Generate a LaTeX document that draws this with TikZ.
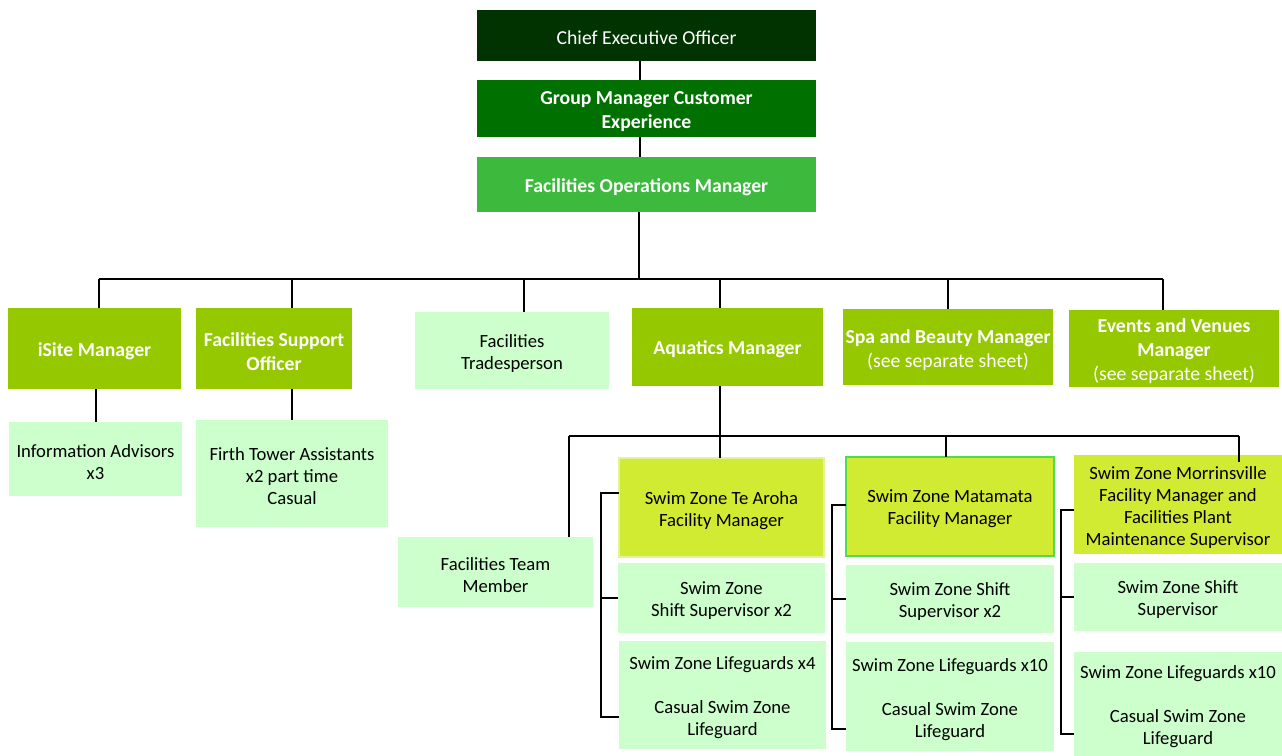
\documentclass[tikz,border=0pt]{standalone}
\usepackage{fontspec}
\setmainfont{Carlito}
\definecolor{ceoC}{RGB}{0,51,0}
\definecolor{gmC}{RGB}{0,112,0}
\definecolor{fomC}{RGB}{61,185,61}
\definecolor{lvlC}{RGB}{150,200,0}
\definecolor{liteC}{RGB}{204,255,204}
\definecolor{yelC}{RGB}{208,235,50}
\definecolor{mmC}{RGB}{80,220,80}
\definecolor{taC}{RGB}{225,245,150}
\newcommand\orgbox[7]{%
  \node[#2,minimum width={(#5-#3)*0.75pt},minimum height={(#6-#4)*0.75pt}] (#1) at ({(#3+#5)/2},{(#4+#6)/2}) {};
  \node[#2,fill=none,draw=none] (#1-t) at ([yshift=-2pt]#1.center) {#7};}
\begin{document}
\begin{tikzpicture}[x=0.75pt,y=-0.75pt,
  base/.style={rectangle,inner sep=0pt,outer sep=0pt,align=center},
  ceobox/.style={base,fill=ceoC,text=white,font=\fontsize{14.8}{18}\selectfont},
  gmbox/.style={base,fill=gmC,text=white,font=\bfseries\fontsize{14.8}{18}\selectfont},
  fombox/.style={base,fill=fomC,text=white,font=\bfseries\fontsize{14.8}{18}\selectfont},
  lvlbox/.style={base,fill=lvlC,text=white,font=\bfseries\fontsize{14.8}{18}\selectfont},
  litebox/.style={base,fill=liteC,text=black,font=\fontsize{14}{16.5}\selectfont},
  yelbox/.style={base,fill=yelC,text=black,font=\fontsize{14}{16.5}\selectfont},
  conn/.style={draw=black,line width=1.4pt}]
\useasboundingbox[fill=white] (0,0) rectangle (1282,756);

% top chain
\orgbox{ceo}{ceobox}{477}{10}{816}{61}{Chief Executive Officer}
\orgbox{gm}{gmbox}{477}{80}{816}{137}{Group Manager Customer\\Experience}
\orgbox{fom}{fombox}{477}{157}{816}{212}{Facilities Operations Manager}

% level 2
\orgbox{isite}{lvlbox}{8}{308}{181}{389}{iSite Manager}
\orgbox{fso}{lvlbox}{196}{308}{352}{389}{Facilities Support\\Officer}
\orgbox{trade}{litebox}{415}{312}{609}{389}{Facilities\\Tradesperson}
\orgbox{aqua}{lvlbox}{632}{308}{823}{386}{Aquatics Manager}
\orgbox{spa}{lvlbox}{843}{309}{1053}{385}{Spa and Beauty Manager\\{\mdseries (see separate sheet)}}
\orgbox{events}{lvlbox}{1069}{310}{1279}{387}{Events and Venues\\Manager\\{\mdseries (see separate sheet)}}

% level 3 left
\orgbox{info}{litebox}{9}{422}{182}{496}{Information Advisors\\x3}
\orgbox{firth}{litebox}{196}{420}{388}{527}{Firth Tower Assistants\\x2 part time\\Casual}

% aquatics
\orgbox{ftm}{litebox}{398}{537}{593}{607}{Facilities Team\\Member}
\orgbox{ta}{yelbox,draw=taC,line width=0.8pt}{619}{458}{824}{557}{Swim Zone Te Aroha\\Facility Manager}
\orgbox{mm}{yelbox,draw=mmC,line width=1.2pt}{846}{457}{1054}{556}{Swim Zone Matamata\\Facility Manager}
\orgbox{mv}{yelbox}{1074}{455}{1282}{554}{Swim Zone Morrinsville\\Facility Manager and\\Facilities Plant\\Maintenance Supervisor}

\orgbox{tass}{litebox}{618}{563}{825}{633}{Swim Zone\\Shift Supervisor x2}
\orgbox{talg}{litebox}{619}{641}{826}{749}{Swim Zone Lifeguards x4\\[16.5pt]Casual Swim Zone\\Lifeguard}
\orgbox{mmss}{litebox}{846}{565}{1054}{633}{Swim Zone Shift\\Supervisor x2}
\orgbox{mmlg}{litebox}{846}{642}{1054}{751}{Swim Zone Lifeguards x10\\[16.5pt]Casual Swim Zone\\Lifeguard}
\orgbox{mvss}{litebox}{1074}{563}{1282}{631}{Swim Zone Shift\\Supervisor}
\orgbox{mvlg}{litebox}{1074}{652}{1282}{756}{Swim Zone Lifeguards x10\\[16.5pt]Casual Swim Zone\\Lifeguard}

% coordinates for connector routing
\coordinate (v0) at (640,0);
\coordinate (bus) at (639,279);
\coordinate (d1) at (99,279);
\coordinate (d2) at (292,279);
\coordinate (d3) at (524,279);
\coordinate (d4) at (720,279);
\coordinate (d5) at (948,279);
\coordinate (d6) at (1163,279);
\coordinate (e1) at (96,0);
\coordinate (e2) at (292,0);
\coordinate (a0) at (720,436);
\coordinate (a1) at (569,436);
\coordinate (a2) at (946,436);
\coordinate (a4) at (1239,436);
\coordinate (a4e) at (1239,462);
\coordinate (t1) at (601,493);
\coordinate (t3) at (601,717);
\coordinate (m1) at (832,505);
\coordinate (m3) at (832,729);
\coordinate (r1) at (1061,510);
\coordinate (r3) at (1061,734);

% connectors
\draw[conn] (ceo.south -| v0) -- (gm.north -| v0);
\draw[conn] (gm.south -| v0) -- (fom.north -| v0);
\draw[conn] (fom.south -| bus) -- (bus);
\draw[conn] (d1) -- (d6);
\draw[conn] (d1) -- (isite.north -| d1);
\draw[conn] (d2) -- (fso.north -| d2);
\draw[conn] (d3) -- (trade.north -| d3);
\draw[conn] (d4) -- (aqua.north -| d4);
\draw[conn] (d5) -- (spa.north -| d5);
\draw[conn] (d6) -- (events.north -| d6);
\draw[conn] (isite.south -| e1) -- (info.north -| e1);
\draw[conn] (fso.south -| e2) -- (firth.north -| e2);

\draw[conn] (aqua.south -| a0) -- (a0);
\draw[conn] (a1) -- (a4);
\draw[conn] (a1) -- (ftm.north -| a1);
\draw[conn] (a0) -- (ta.north -| a0);
\draw[conn] (a2) -- (mm.north -| a2);
\draw[conn] (a4) -- (a4e);

\draw[conn] (ta.west |- t1) -- (t1) -- (t3) -- (talg.west |- t3);
\draw[conn] (t1 |- tass.west) -- (tass.west);
\draw[conn] (mm.west |- m1) -- (m1) -- (m3) -- (mmlg.west |- m3);
\draw[conn] (m1 |- mmss.west) -- (mmss.west);
\draw[conn] (mv.west |- r1) -- (r1) -- (r3) -- (mvlg.west |- r3);
\draw[conn] (r1 |- mvss.west) -- (mvss.west);
\end{tikzpicture}
\end{document}
